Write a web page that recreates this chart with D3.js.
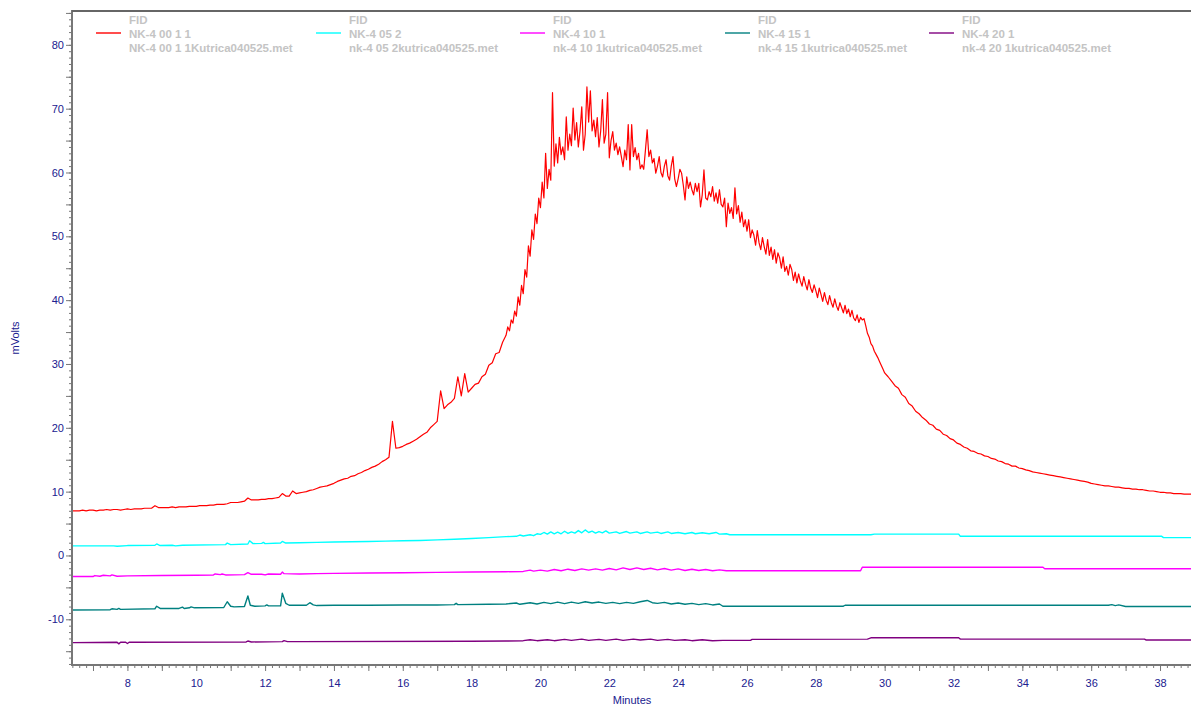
<!DOCTYPE html>
<html>
<head>
<meta charset="utf-8">
<script src="https://cdn.jsdelivr.net/npm/d3@7"></script>
<style>
  body { margin: 0; background: #fff; }
  svg { display: block; font-family: Arial, "Liberation Sans", sans-serif; }
</style>
</head>
<body>
<svg id="chart" width="1191" height="707"></svg>
<script>
// FID chromatograms, five runs overlaid (minutes vs mVolts)

// Run NK-4 00 1 1, sampled in three stretches: [start min, step min] + readings
const redEarlyStart = 6.4, redEarlyStep = 0.1;
const redEarly = [
  7.0, 7.0, 7.0, 7.1, 7.0, 7.1, 7.1, 7.0, 7.1, 7.1,
  7.2, 7.1, 7.2, 7.2, 7.1, 7.2, 7.3, 7.2, 7.3, 7.3,
  7.3, 7.4, 7.4, 7.4, 7.8, 7.5, 7.5, 7.5, 7.5, 7.6,
  7.5, 7.6, 7.6, 7.6, 7.7, 7.7, 7.7, 7.8, 7.8, 7.8,
  7.9, 7.9, 8.0, 8.0, 8.0, 8.1, 8.3, 8.3, 8.3, 8.4,
  8.5, 9.0, 8.7, 8.7, 8.7, 8.8, 8.8, 8.9, 8.9, 9.0,
  9.1, 9.7, 9.3, 9.3, 10.1, 9.7, 9.8, 9.9, 10.0, 10.2,
  10.3, 10.5, 10.7, 10.8, 10.9, 11.1, 11.3, 11.6, 11.8, 12.0,
  12.1, 12.4, 12.5, 12.8, 13.0, 13.3, 13.5, 13.8, 14.0, 14.3,
  14.7, 15.0, 15.4, 21.0, 16.8, 16.9, 17.1, 17.4, 17.6, 17.9,
  18.2, 18.6, 19.0, 19.3, 20.0, 20.5, 21.0, 25.8, 23.0, 23.6,
  24.0, 24.6, 28.0, 25.0, 28.5, 25.6, 26.2, 26.8, 27.0, 28.0,
  28.4, 29.8, 30.2, 31.6, 31.8, 33.4
];

const redPeakStart = 19.0, redPeakStep = 0.05;
const redPeak = [
  34.5, 35.8, 35.2, 36.9, 36.4, 38.3, 37.5, 40.5, 39.2, 42.3,
  41.0, 44.8, 43.6, 48.5, 46.9, 51.0, 49.5, 53.5, 52.0, 56.0,
  54.5, 58.5, 56.0, 63.0, 57.5, 60.5, 58.8, 72.5, 61.0, 64.5,
  61.5, 65.5, 62.8, 64.0, 62.0, 68.7, 63.5, 66.0, 64.2, 70.1,
  65.1, 67.8, 64.0, 66.5, 70.3, 63.5, 66.0, 73.4, 67.9, 72.8,
  66.5, 68.2, 65.6, 68.6, 64.0, 66.5, 71.4, 64.6, 66.0, 72.5,
  62.3, 65.0, 66.4, 63.5, 64.6, 62.8, 64.0, 62.5, 60.9, 63.5,
  62.0, 67.5, 60.4, 67.5, 62.5, 63.9, 62.0, 63.0, 60.6, 61.2,
  60.5, 63.5, 66.7, 62.5, 63.5, 61.5, 62.2, 59.9, 61.0, 62.5,
  60.0, 59.3, 61.0, 62.0, 59.5, 58.8, 61.0, 62.5, 59.0, 57.8,
  59.0, 60.5, 59.9, 58.0, 55.7, 59.3, 57.5, 58.5, 57.3, 56.5,
  58.3, 57.0, 58.3, 54.6, 56.5, 60.4, 56.0, 55.7, 57.0, 56.2,
  57.8, 55.5, 56.8, 55.2, 57.3, 55.0, 54.6, 56.0, 51.5, 55.2,
  53.6, 54.5, 52.8, 57.6, 53.5, 54.8, 52.2, 53.8, 51.5, 52.6,
  50.8, 52.6, 49.8, 51.0, 50.2, 48.6, 50.9, 49.0, 47.9, 49.8,
  48.4, 47.2, 49.5, 47.0, 48.3, 46.4, 47.9, 45.8, 47.4, 46.6,
  45.0, 46.8, 44.5, 45.3, 43.9, 45.6, 44.8, 43.1, 44.4, 42.7,
  44.1, 43.0, 42.2, 43.7, 42.5, 41.6, 43.2, 41.9, 41.2, 42.4,
  41.5, 40.4, 41.9, 40.9, 39.8, 41.2, 40.0, 39.3, 40.7, 39.6,
  38.9, 40.2, 39.1, 38.4, 39.6, 38.8, 38.0, 39.2, 37.9, 38.6,
  37.4, 38.4, 37.2, 36.8, 37.7, 36.5, 37.3, 36.9, 37.1, 36.0,
  34.8, 34.2, 33.2, 32.8, 32.0, 31.5, 31.0, 30.4, 29.8, 29.2
];

const redLateStart = 30.0, redLateStep = 0.1;
const redLate = [
  28.6, 28.0, 27.3, 26.6, 26.2, 25.2, 24.8, 23.8, 23.4, 22.6,
  22.2, 21.6, 21.2, 20.6, 20.4, 19.8, 19.6, 19.0, 18.8, 18.3,
  18.1, 17.6, 17.4, 17.0, 16.8, 16.4, 16.3, 16.0, 15.9, 15.6,
  15.5, 15.2, 15.1, 14.8, 14.7, 14.4, 14.3, 14.0, 14.0, 13.7,
  13.6, 13.4, 13.3, 13.1, 13.0, 12.9, 12.8, 12.7, 12.6, 12.5,
  12.4, 12.3, 12.2, 12.1, 12.0, 11.9, 11.8, 11.7, 11.6, 11.5,
  11.3, 11.2, 11.1, 11.0, 10.9, 10.9, 10.8, 10.7, 10.7, 10.6,
  10.5, 10.5, 10.4, 10.4, 10.3, 10.3, 10.2, 10.1, 10.1, 10.0,
  9.9, 9.9, 9.8, 9.8, 9.7, 9.7, 9.7, 9.6, 9.6, 9.6
];

// The other runs as [minutes, mVolts] readings
const cyanPoints = [
  [6.4,1.5],[7.6,1.5],[7.7,1.45],[8.0,1.55],[8.8,1.6],[8.85,1.8],[8.95,1.55],[9.3,1.6],[9.4,1.5],
  [9.6,1.6],[10.85,1.7],[10.9,1.95],[11.0,1.7],[11.5,1.8],[11.55,2.3],[11.65,1.85],[11.9,1.9],
  [11.95,2.05],[12.0,1.85],[12.45,1.95],[12.5,2.2],[12.6,1.95],[13.0,2.0],[13.5,2.05],[14.0,2.1],
  [14.5,2.15],[15.0,2.2],[15.5,2.25],[16.0,2.3],[16.5,2.35],[17.0,2.45],[17.5,2.55],[18.0,2.65],
  [18.5,2.8],[19.0,2.95],[19.3,3.0],[19.4,3.2],[19.5,3.05],[19.7,3.25],[19.8,3.1],[19.9,3.4],
  [20.0,3.3],[20.1,3.6],[20.2,3.35],[20.3,3.7],[20.4,3.4],[20.5,3.65],[20.6,3.4],[20.7,3.8],
  [20.8,3.45],[20.9,3.7],[21.0,3.5],[21.1,3.9],[21.2,3.55],[21.3,4.0],[21.4,3.6],[21.5,3.8],
  [21.6,3.5],[21.7,3.75],[21.8,3.55],[21.9,3.85],[22.0,3.5],[22.2,3.7],[22.3,3.45],[22.5,3.75],
  [22.6,3.5],[22.8,3.7],[22.9,3.45],[23.1,3.7],[23.2,3.5],[23.4,3.65],[23.5,3.45],[23.7,3.7],
  [23.8,3.45],[24.0,3.6],[24.2,3.4],[24.4,3.6],[24.5,3.4],[24.7,3.55],[24.9,3.4],[25.1,3.6],
  [25.2,3.35],[25.4,3.4],[25.5,3.25],[27.0,3.25],[29.6,3.25],[29.7,3.35],[32.15,3.35],
  [32.2,3.0],[38.05,3.0],[38.1,2.8],[38.9,2.8]
];

const magentaPoints = [
  [6.4,-3.3],[7.0,-3.3],[7.05,-3.15],[7.2,-3.25],[7.3,-3.1],[7.5,-3.2],[7.55,-3.05],[7.7,-3.25],
  [8.0,-3.2],[9.0,-3.15],[10.0,-3.1],[10.5,-3.05],[10.55,-2.9],[10.7,-3.0],[10.75,-2.9],
  [10.85,-3.05],[11.4,-3.0],[11.5,-2.7],[11.6,-2.95],[11.9,-2.95],[12.0,-3.05],[12.1,-2.9],
  [12.45,-2.95],[12.5,-2.6],[12.55,-2.85],[13.0,-2.9],[13.5,-2.85],[14.0,-2.8],[15.0,-2.75],
  [16.0,-2.7],[17.0,-2.65],[18.0,-2.6],[19.0,-2.55],[19.5,-2.5],[19.7,-2.3],[19.8,-2.45],
  [20.0,-2.3],[20.2,-2.45],[20.4,-2.2],[20.6,-2.4],[20.8,-2.15],[21.0,-2.35],[21.2,-2.1],
  [21.4,-2.3],[21.6,-2.1],[21.8,-2.3],[22.0,-2.05],[22.2,-2.25],[22.4,-1.95],[22.6,-2.2],
  [22.8,-1.95],[23.0,-2.2],[23.2,-2.0],[23.4,-2.25],[23.6,-2.05],[23.8,-2.3],[24.0,-2.1],
  [24.2,-2.35],[24.4,-2.15],[24.6,-2.35],[24.8,-2.2],[25.0,-2.4],[25.2,-2.25],[25.4,-2.4],
  [27.0,-2.4],[29.3,-2.4],[29.35,-1.85],[34.6,-1.85],[34.65,-2.07],[38.9,-2.07]
];

const tealPoints = [
  [6.4,-8.55],[7.5,-8.5],[7.55,-8.35],[7.7,-8.45],[7.75,-8.3],[7.8,-8.45],[8.8,-8.35],
  [8.85,-7.95],[8.95,-8.3],[9.5,-8.3],[9.6,-8.1],[9.65,-8.3],[9.8,-8.2],[9.85,-8.05],
  [9.95,-8.2],[10.8,-8.15],[10.9,-7.25],[11.0,-7.95],[11.1,-8.05],[11.4,-8.0],[11.5,-6.35],
  [11.57,-7.8],[11.7,-7.95],[12.0,-7.9],[12.05,-7.75],[12.1,-7.9],[12.45,-7.9],[12.5,-5.9],
  [12.6,-7.5],[12.7,-7.8],[13.2,-7.8],[13.3,-7.4],[13.4,-7.75],[13.5,-7.85],[14.0,-7.8],
  [15.0,-7.8],[16.0,-7.75],[17.0,-7.75],[17.5,-7.7],[17.55,-7.5],[17.6,-7.7],[18.5,-7.65],
  [19.0,-7.6],[19.3,-7.45],[19.4,-7.65],[19.7,-7.4],[19.9,-7.6],[20.1,-7.35],[20.3,-7.55],
  [20.5,-7.3],[20.7,-7.55],[20.9,-7.3],[21.1,-7.5],[21.3,-7.25],[21.5,-7.45],[21.7,-7.3],
  [21.9,-7.5],[22.1,-7.35],[22.3,-7.55],[22.5,-7.35],[22.7,-7.5],[22.9,-7.25],[23.1,-7.05],
  [23.25,-7.4],[23.4,-7.5],[23.6,-7.35],[23.8,-7.6],[24.0,-7.45],[24.2,-7.65],[24.4,-7.5],
  [24.6,-7.7],[24.8,-7.55],[25.0,-7.75],[25.2,-7.6],[25.3,-7.95],[27.0,-7.95],[28.8,-7.95],
  [28.85,-7.8],[36.5,-7.8],[36.6,-7.7],[36.7,-7.85],[36.8,-7.75],[37.0,-8.0],[38.9,-8.0]
];

const purplePoints = [
  [6.4,-13.65],[7.7,-13.6],[7.75,-13.85],[7.8,-13.6],[7.95,-13.6],[8.0,-13.8],[8.05,-13.6],
  [11.45,-13.55],[11.5,-13.4],[11.6,-13.55],[12.5,-13.5],[12.55,-13.35],[12.65,-13.5],
  [13.0,-13.5],[18.0,-13.45],[19.0,-13.4],[19.5,-13.35],[19.7,-13.2],[19.9,-13.35],
  [20.2,-13.2],[20.4,-13.35],[20.7,-13.15],[20.9,-13.3],[21.2,-13.1],[21.4,-13.3],
  [21.7,-13.15],[21.9,-13.3],[22.2,-13.1],[22.4,-13.3],[22.7,-13.1],[22.9,-13.25],
  [23.2,-13.1],[23.4,-13.3],[23.7,-13.15],[23.9,-13.3],[24.2,-13.2],[24.4,-13.35],
  [24.7,-13.2],[25.0,-13.35],[25.3,-13.3],[26.1,-13.3],[26.15,-13.15],[29.5,-13.1],
  [29.6,-12.9],[32.15,-12.9],[32.2,-13.1],[37.55,-13.1],[37.6,-13.25],[38.9,-13.25]
];

const seriesColors = ["#ff0000", "#00ffff", "#ff00ff", "#008080", "#800080"];
const legendDetector = ["FID", "FID", "FID", "FID", "FID"];
const legendSample = ["NK-4 00 1 1", "NK-4 05 2", "NK-4 10 1", "NK-4 15 1", "NK-4 20 1"];
const legendFile = [
  "NK-4 00 1 1Kutrica040525.met",
  "nk-4 05 2kutrica040525.met",
  "nk-4 10 1kutrica040525.met",
  "nk-4 15 1kutrica040525.met",
  "nk-4 20 1kutrica040525.met"
];
const xLabelTicks = [8, 10, 12, 14, 16, 18, 20, 22, 24, 26, 28, 30, 32, 34, 36, 38];
const yLabelTicks = [-10, 0, 10, 20, 30, 40, 50, 60, 70, 80];

// ---- layout ----
const plotLeft = 72, plotRight = 1191, plotTop = 11, plotBottom = 665;
const axisGray = "#777777";
const labelBlue = "#20208f";

const svg = d3.select("#chart");
const x = d3.scaleLinear().domain([6.39, 38.9]).range([plotLeft, plotRight]);
const y = d3.scaleLinear().domain([-17.16, 85.3]).range([plotBottom, plotTop]);

svg.append("defs").append("clipPath").attr("id", "plotClip")
  .append("rect").attr("x", plotLeft).attr("y", plotTop)
  .attr("width", plotRight - plotLeft).attr("height", plotBottom - plotTop);

// traces
const sampled = (start, step, vals) => vals.map((v, i) => [start + i * step, v]);
const redPoints = [
  ...sampled(redEarlyStart, redEarlyStep, redEarly),
  ...sampled(redPeakStart, redPeakStep, redPeak),
  ...sampled(redLateStart, redLateStep, redLate)
];
const allSeries = [redPoints, cyanPoints, magentaPoints, tealPoints, purplePoints];
const line = d3.line().x(d => x(d[0])).y(d => y(d[1]));
const plot = svg.append("g").attr("clip-path", "url(#plotClip)");
// baselines first, the large trace on top
[4, 3, 2, 1, 0].forEach(i => {
  plot.append("path")
    .datum(allSeries[i])
    .attr("fill", "none")
    .attr("stroke", seriesColors[i])
    .attr("stroke-width", i === 0 ? 1.2 : 1.4)
    .attr("stroke-linejoin", "round")
    .attr("d", line);
});

// ---- axes ----
function styleAxis(g) {
  g.selectAll(".domain").remove();
  g.selectAll(".tick line").attr("stroke", axisGray);
  g.selectAll(".tick text").attr("fill", labelBlue).attr("font-size", 11);
}
const plainNumber = d => String(d);

// y: minor ticks every 1, longer every 5, labels every 10
svg.append("g").attr("transform", `translate(${plotLeft},0)`)
  .call(d3.axisLeft(y).tickValues(d3.range(-17, 86, 1)).tickSize(3).tickFormat(""))
  .call(styleAxis);
svg.append("g").attr("transform", `translate(${plotLeft},0)`)
  .call(d3.axisLeft(y).tickValues(d3.range(-15, 86, 5)).tickSize(6).tickFormat(""))
  .call(styleAxis);
svg.append("g").attr("transform", `translate(${plotLeft},0)`)
  .call(d3.axisLeft(y).tickValues(yLabelTicks).tickSize(0).tickPadding(8).tickFormat(plainNumber))
  .call(styleAxis);

// x: minor ticks every 0.2 min, longer every minute, labels every 2 minutes
svg.append("g").attr("transform", `translate(0,${plotBottom})`)
  .call(d3.axisBottom(x).tickValues(d3.range(6.4, 38.91, 0.2)).tickSize(3).tickFormat(""))
  .call(styleAxis);
svg.append("g").attr("transform", `translate(0,${plotBottom})`)
  .call(d3.axisBottom(x).tickValues(d3.range(7, 39, 1)).tickSize(6).tickFormat(""))
  .call(styleAxis);
svg.append("g").attr("transform", `translate(0,${plotBottom})`)
  .call(d3.axisBottom(x).tickValues(xLabelTicks).tickSize(0).tickPadding(14).tickFormat(plainNumber))
  .call(styleAxis);

// frame lines: left axis, bottom axis, top border
svg.append("line").attr("x1", plotLeft).attr("x2", plotLeft).attr("y1", plotTop - 1).attr("y2", plotBottom + 1)
  .attr("stroke", axisGray).attr("stroke-width", 2);
svg.append("line").attr("x1", plotLeft).attr("x2", plotRight).attr("y1", plotBottom).attr("y2", plotBottom)
  .attr("stroke", axisGray).attr("stroke-width", 2);
svg.append("line").attr("x1", plotLeft).attr("x2", plotRight).attr("y1", plotTop).attr("y2", plotTop)
  .attr("stroke", "#666666").attr("stroke-width", 2);

// axis titles
svg.append("text").attr("x", 632).attr("y", 704).attr("text-anchor", "middle")
  .attr("fill", labelBlue).attr("font-size", 11).text("Minutes");
svg.append("text").attr("transform", "translate(19,338) rotate(-90)").attr("text-anchor", "middle")
  .attr("fill", labelBlue).attr("font-size", 11).text("mVolts");

// ---- legend ----
const legendX = [129, 349, 553, 758, 962];
const legend = svg.append("g").attr("font-size", 11.5).attr("font-weight", "bold").attr("fill", "#c4c4c4");
legendX.forEach((lx, i) => {
  legend.append("line").attr("x1", lx - 33).attr("x2", lx - 8).attr("y1", 33).attr("y2", 33)
    .attr("stroke", seriesColors[i]).attr("stroke-width", 1.4);
  legend.append("text").attr("x", lx).attr("y", 24).text(legendDetector[i]);
  legend.append("text").attr("x", lx).attr("y", 38).text(legendSample[i]);
  legend.append("text").attr("x", lx).attr("y", 52).text(legendFile[i]);
});
</script>
</body>
</html>
